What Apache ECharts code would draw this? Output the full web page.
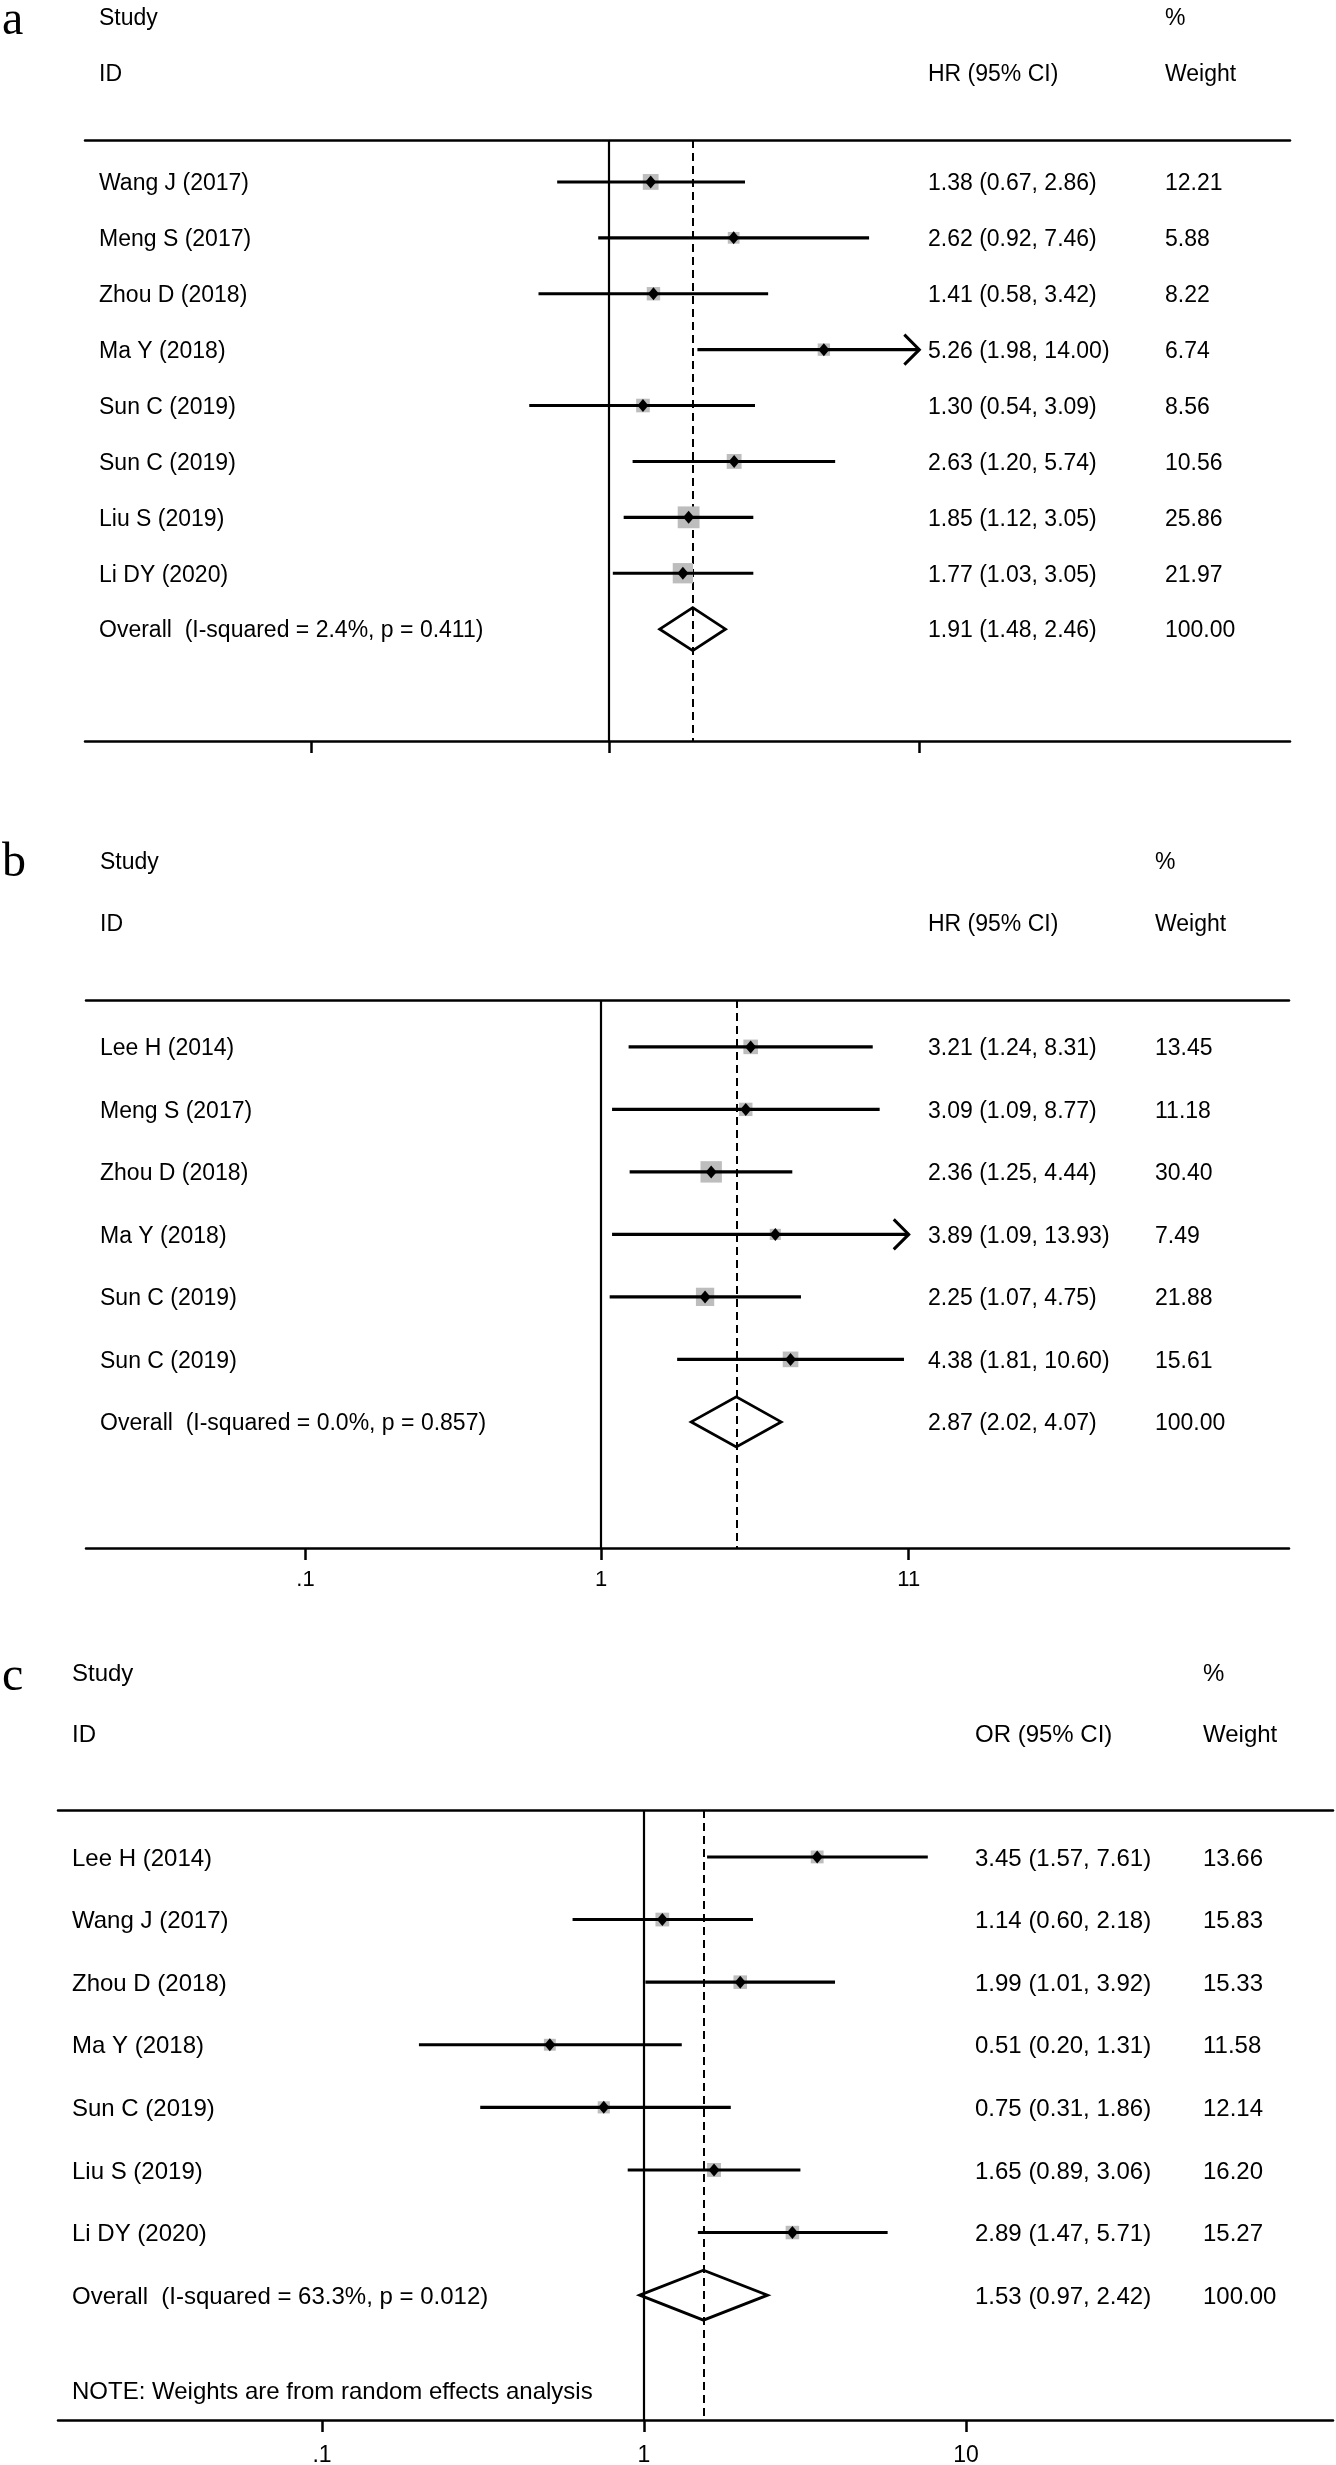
<!DOCTYPE html>
<html>
<head>
<meta charset="utf-8">
<title>Forest plots</title>
<script src="https://cdn.jsdelivr.net/npm/echarts@6/dist/echarts.min.js"></script>
<style>
  html, body { margin: 0; padding: 0; background: #fff; }
  #chart { width: 1336px; height: 2465px; }
</style>
</head>
<body>
<div id="chart"></div>
<script>
// panel a (HR)
const studiesA = ['Wang J (2017)', 'Meng S (2017)', 'Zhou D (2018)', 'Ma Y (2018)', 'Sun C (2019)', 'Sun C (2019)', 'Liu S (2019)', 'Li DY (2020)'];
const hrA = [1.38, 2.62, 1.41, 5.26, 1.30, 2.63, 1.85, 1.77];
const loA = [0.67, 0.92, 0.58, 1.98, 0.54, 1.20, 1.12, 1.03];
const hiA = [2.86, 7.46, 3.42, 14.00, 3.09, 5.74, 3.05, 3.05];
const weightA = [12.21, 5.88, 8.22, 6.74, 8.56, 10.56, 25.86, 21.97];
const overallA = [1.91, 1.48, 2.46];
const hetA = [2.4, 0.411]; // I-squared %, p

// panel b (HR)
const studiesB = ['Lee H (2014)', 'Meng S (2017)', 'Zhou D (2018)', 'Ma Y (2018)', 'Sun C (2019)', 'Sun C (2019)'];
const hrB = [3.21, 3.09, 2.36, 3.89, 2.25, 4.38];
const loB = [1.24, 1.09, 1.25, 1.09, 1.07, 1.81];
const hiB = [8.31, 8.77, 4.44, 13.93, 4.75, 10.60];
const weightB = [13.45, 11.18, 30.40, 7.49, 21.88, 15.61];
const overallB = [2.87, 2.02, 4.07];
const hetB = [0.0, 0.857];

// panel c (OR)
const studiesC = ['Lee H (2014)', 'Wang J (2017)', 'Zhou D (2018)', 'Ma Y (2018)', 'Sun C (2019)', 'Liu S (2019)', 'Li DY (2020)'];
const orC = [3.45, 1.14, 1.99, 0.51, 0.75, 1.65, 2.89];
const loC = [1.57, 0.60, 1.01, 0.20, 0.31, 0.89, 1.47];
const hiC = [7.61, 2.18, 3.92, 1.31, 1.86, 3.06, 5.71];
const weightC = [13.66, 15.83, 15.33, 11.58, 12.14, 16.20, 15.27];
const overallC = [1.53, 0.97, 2.42];
const hetC = [63.3, 0.012];

// x axis ticks
const ticksAB = [0.1, 1, 11];
const tickLabelsAB = ['.1', '1', '11'];
const ticksC = [0.1, 1, 10];
const tickLabelsC = ['.1', '1', '10'];

const FONT = 'Liberation Sans';
const SERIF = 'Liberation Serif';
const TY = 2; // small downward nudge for text
const fmt = v => v.toFixed(2);

// layout of each panel (pixels)
const panels = [
  { letter: 'a', letterY: 21, names: studiesA, est: hrA, lo: loA, hi: hiA, w: weightA, all: overallA, het: hetA,
    measure: 'HR (95% CI)', ticks: ticksAB, tickLabels: tickLabelsAB, showLabels: false,
    left: 85, right: 1290, top: 140, bottom: 741, one: 609, dec: 298, pitch: 55.9,
    nameX: 99, estX: 928, wX: 1165, head1: 17, head2: 72.5, fs: 23, boxK: 3.8, boxC: 2.5, dH: 21.5, cap: 11, margin: 21 },
  { letter: 'b', letterY: 863, names: studiesB, est: hrB, lo: loB, hi: hiB, w: weightB, all: overallB, het: hetB,
    measure: 'HR (95% CI)', ticks: ticksAB, tickLabels: tickLabelsAB, showLabels: true,
    left: 86, right: 1289, top: 1000, bottom: 1548, one: 601, dec: 295.5, pitch: 62.5,
    nameX: 100, estX: 928, wX: 1155, head1: 861, head2: 923, fs: 23, boxK: 3.7, boxC: 1, dH: 25, cap: 11, margin: 21 },
  { letter: 'c', letterY: 1677, names: studiesC, est: orC, lo: loC, hi: hiC, w: weightC, all: overallC, het: hetC,
    measure: 'OR (95% CI)', ticks: ticksC, tickLabels: tickLabelsC, showLabels: true,
    left: 58, right: 1333, top: 1810, bottom: 2420, one: 644, dec: 322, pitch: 62.6,
    nameX: 72, estX: 975, wX: 1203, head1: 1672, head2: 1733, fs: 24, boxK: 3.2, boxC: 1, dH: 25, cap: 10, margin: 24 }
];

function makeRender(P) {
  return function (params, api) {
    const i = params.dataIndex;
    const est = api.value(0), lo = api.value(1), hi = api.value(2), row = api.value(3), w = api.value(4);
    const isAll = api.value(5) === 1;
    const p = api.coord([est, row]);
    const a = api.coord([lo, row]);
    const capped = hi > P.cap;
    const b = api.coord([capped ? P.cap : hi, row]);
    const y = p[1];
    const kids = [];
    const txt = (t, x) => ({
      type: 'text', x: x, y: y + TY,
      style: { text: t, fontFamily: FONT, fontSize: P.fs, fill: '#000', align: 'left', verticalAlign: 'middle' }
    });
    if (isAll) {
      kids.push({ type: 'polygon', shape: { points: [[a[0], y], [p[0], y - P.dH], [b[0], y], [p[0], y + P.dH]] },
        style: { fill: 'none', stroke: '#000', lineWidth: 2.8 } });
      kids.push(txt('Overall  (I-squared = ' + P.het[0].toFixed(1) + '%, p = ' + P.het[1].toFixed(3) + ')', P.nameX));
    } else {
      const s = P.boxK * Math.sqrt(w) + P.boxC;
      kids.push({ type: 'rect', shape: { x: p[0] - s / 2, y: y - s / 2, width: s, height: s }, style: { fill: '#bdbdbd' } });
      kids.push({ type: 'line', shape: { x1: a[0], y1: y, x2: b[0], y2: y }, style: { stroke: '#000', lineWidth: 3.1 } });
      if (capped) {
        kids.push({ type: 'polyline', shape: { points: [[b[0] - 15, y - 15], [b[0], y], [b[0] - 15, y + 15]] },
          style: { stroke: '#000', lineWidth: 3, fill: 'none' } });
      }
      kids.push({ type: 'polygon', shape: { points: [[p[0] - 5.5, y], [p[0], y - 6.5], [p[0] + 5.5, y], [p[0], y + 6.5]] },
        style: { fill: '#000' } });
      kids.push(txt(P.names[i], P.nameX));
    }
    kids.push(txt(fmt(est) + ' (' + fmt(lo) + ', ' + fmt(hi) + ')', P.estX));
    kids.push(txt(fmt(w), P.wX));
    return { type: 'group', children: kids };
  };
}

const grid = [], xAxis = [], yAxis = [], series = [], graphic = [];

panels.forEach((P, k) => {
  const xmin = Math.pow(10, (P.left - P.one) / P.dec);
  const xmax = Math.pow(10, (P.right - P.one) / P.dec);
  grid.push({ left: P.left, top: P.top, width: P.right - P.left, height: P.bottom - P.top,
    containLabel: false, outerBoundsMode: 'none' });

  xAxis.push({
    gridIndex: k, type: 'log', logBase: 10, position: 'bottom', min: xmin, max: xmax,
    axisLine: { onZero: false, lineStyle: { color: '#000', width: 2.5 } },
    axisTick: { show: true, customValues: P.ticks, length: 12, lineStyle: { color: '#000', width: 2.5 } },
    axisLabel: {
      show: P.showLabels, customValues: P.ticks, margin: P.margin,
      color: '#000', fontFamily: FONT, fontSize: P.fs - 1,
      formatter: v => {
        const j = P.ticks.findIndex(t => Math.abs(t - v) < 1e-3 * t);
        return j < 0 ? '' : P.tickLabels[j];
      }
    },
    splitLine: { show: false }, minorTick: { show: false }
  });
  xAxis.push({
    gridIndex: k, type: 'log', logBase: 10, position: 'top', min: xmin, max: xmax,
    axisLine: { onZero: false, lineStyle: { color: '#000', width: 2.5 } },
    axisTick: { show: false }, axisLabel: { show: false }, splitLine: { show: false }
  });
  yAxis.push({ gridIndex: k, type: 'value', inverse: true, show: false,
    min: -0.75, max: -0.75 + (P.bottom - P.top) / P.pitch });

  const data = P.est.map((e, i) => [e, P.lo[i], P.hi[i], i, P.w[i], 0]);
  data.push([P.all[0], P.all[1], P.all[2], P.est.length, 100, 1]);

  series.push({
    type: 'custom', coordinateSystem: 'cartesian2d', xAxisIndex: 2 * k, yAxisIndex: k,
    renderItem: makeRender(P), data: data, silent: true, z: 3,
    encode: { x: [0, 1, 2], y: 3 },
    markLine: {
      silent: true, symbol: 'none', z: 1, animation: false, label: { show: false },
      data: [
        { xAxis: 1, lineStyle: { color: '#000', width: 2.2, type: 'solid' } },
        { xAxis: P.all[0], lineStyle: { color: '#000', width: 2, type: [8, 5] } }
      ]
    }
  });

  const head = (t, x, y) => ({ type: 'text', x: x, y: y + TY, silent: true,
    style: { text: t, fontFamily: FONT, fontSize: P.fs, fill: '#000', align: 'left', verticalAlign: 'middle' } });
  graphic.push({ type: 'text', x: 2, y: P.letterY, silent: true,
    style: { text: P.letter, fontFamily: SERIF, fontSize: 48, fill: '#000', align: 'left', verticalAlign: 'middle' } });
  graphic.push(head('Study', P.nameX, P.head1));
  graphic.push(head('ID', P.nameX, P.head2));
  graphic.push(head(P.measure, P.estX, P.head2));
  graphic.push(head('%', P.wX, P.head1));
  graphic.push(head('Weight', P.wX, P.head2));
});

graphic.push({ type: 'text', x: 72, y: 2392, silent: true,
  style: { text: 'NOTE: Weights are from random effects analysis', fontFamily: FONT, fontSize: 24, fill: '#000',
    align: 'left', verticalAlign: 'middle' } });

const chart = echarts.init(document.getElementById('chart'), null, { renderer: 'canvas' });
chart.setOption({
  backgroundColor: '#fff',
  animation: false,
  grid: grid,
  xAxis: xAxis,
  yAxis: yAxis,
  series: series,
  graphic: graphic
});
</script>
</body>
</html>
